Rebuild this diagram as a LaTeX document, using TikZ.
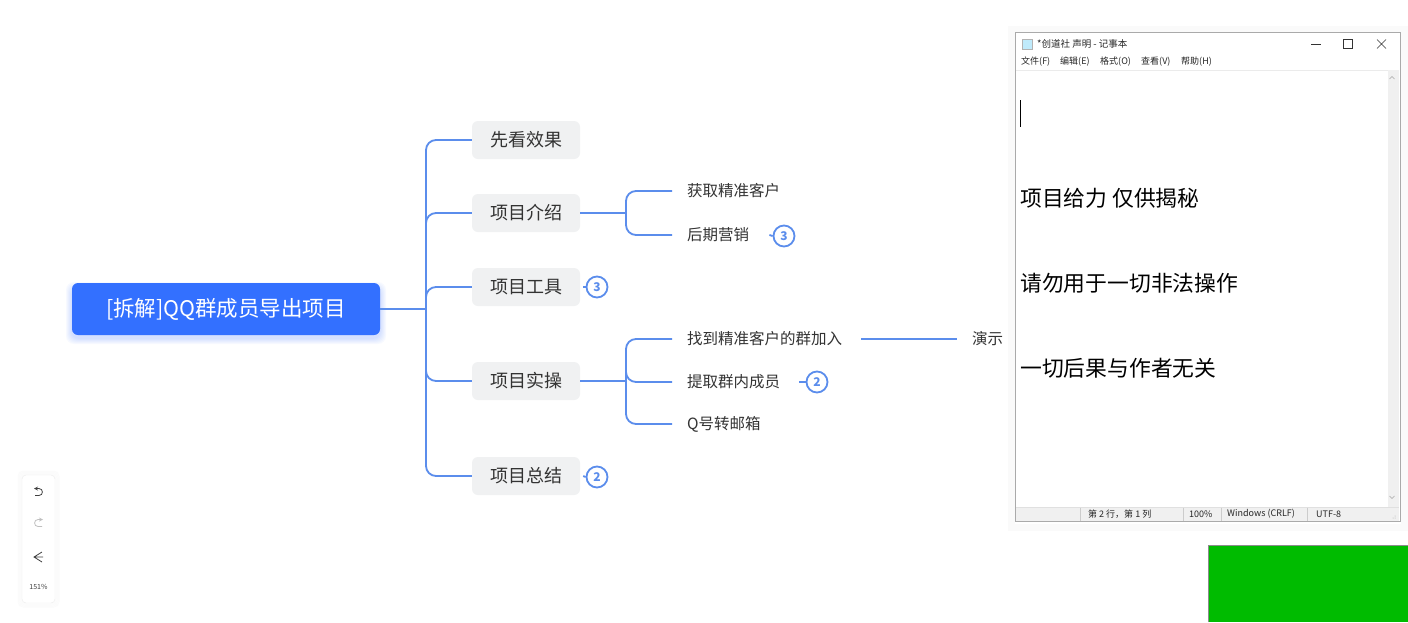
\documentclass[tikz,border=0pt]{standalone}
\usepackage{fontspec}
\setmainfont{Noto Sans CJK SC}
\definecolor{rootblue}{RGB}{51,112,255}
\definecolor{linkblue}{RGB}{91,141,236}
\definecolor{topicgray}{RGB}{240,241,242}
\definecolor{inkgray}{RGB}{51,51,51}
\definecolor{barbg}{RGB}{240,240,240}
\definecolor{winline}{RGB}{170,170,170}
\definecolor{mygreen}{RGB}{0,187,0}

\begin{document}
\begin{tikzpicture}[x=1pt,y=-1pt,
  rootbox/.style={fill=rootblue,rounded corners=6pt,minimum width=308pt,minimum height=52pt,
    text=white,font=\fontsize{21.5}{24}\selectfont},
  topicbox/.style={fill=topicgray,rounded corners=6pt,minimum width=108pt,minimum height=38pt,
    text=inkgray,font=\fontsize{18}{20}\selectfont},
  subtopic/.style={anchor=west,inner xsep=15pt,inner ysep=2pt,text=inkgray,font=\fontsize{15.5}{18}\selectfont},
  badge/.style={circle,draw=linkblue,line width=1.8pt,minimum size=21pt,inner sep=0pt,
    text=linkblue,font=\fontsize{12}{12}\selectfont\bfseries},
  link/.style={draw=linkblue,line width=1.8pt},
  menu/.style={anchor=west,inner sep=0pt,text=black!85,font=\fontsize{9}{10}\selectfont},
  memo/.style={anchor=west,inner sep=0pt,text=black,font=\fontsize{21.8}{24}\selectfont}]
  \useasboundingbox (0,0) rectangle (1408,622);
  \fill[white] (0,0) rectangle (1408,622);
  % soft glow under the root
  \foreach \g in {1,...,6}
    \fill[rootblue,opacity=0.035,rounded corners=8pt] (72-\g,285-\g+3) rectangle (380+\g,335+\g+3);
  % mind map
  \node[rootbox] (root) at (226,309) {[拆解]QQ群成员导出项目};
  \coordinate (hub) at (426,309);
  \node[topicbox] (look) at (526,140) {先看效果};
  \node[topicbox] (intro) at (526,213) {项目介绍};
  \node[topicbox] (tool) at (526,287) {项目工具};
  \node[topicbox] (run) at (526,381) {项目实操};
  \node[topicbox] (sum) at (526,476) {项目总结};
  \draw[link] (root.east) -- (hub);
  \foreach \t in {look,intro,tool,run,sum}
    \draw[link,rounded corners=10pt] (hub) |- (\t.west);
  % 项目介绍
  \coordinate (introhub) at (626,213);
  \node[subtopic] (get) at (672,191) {获取精准客户};
  \node[subtopic] (late) at (672,235) {后期营销};
  \draw[link] (intro.east) -- (introhub);
  \draw[link,rounded corners=10pt] (introhub) |- (get.west);
  \draw[link,rounded corners=10pt] (introhub) |- (late.west);
  % 项目实操
  \coordinate (runhub) at (626,381);
  \node[subtopic] (find) at (672,339) {找到精准客户的群加入};
  \node[subtopic] (pull) at (672,382) {提取群内成员};
  \node[subtopic] (mail) at (672,424) {Q号转邮箱};
  \node[subtopic] (demo) at (957,339) {演示};
  \draw[link] (run.east) -- (runhub);
  \foreach \t in {find,pull,mail}
    \draw[link,rounded corners=10pt] (runhub) |- (\t.west);
  \draw[link,line width=1.5pt] ([xshift=4pt]find.east) -- (demo.west);
  % badges
  \node[badge] (b1) at (597,287) {3};
  \node[badge] (b2) at (784,236) {3};
  \node[badge] (b3) at (817,382) {2};
  \node[badge] (b4) at (597,477) {2};
  \draw[link] ([xshift=3pt]tool.east) -- (b1.west);
  \draw[link] ([xshift=5pt]late.east) -- (b2.west);
  \draw[link] ([xshift=4pt]pull.east) -- (b3.west);
  \draw[link] ([xshift=3pt]sum.east) -- (b4.west);
  % toolbar
  \foreach \g in {1,...,4}
    \draw[black,opacity=0.015,rounded corners=5pt,line width=1pt] (22-\g,475-\g) rectangle (55+\g,603+\g);
  \node[draw=black!8,fill=white,rounded corners=4pt,minimum width=33pt,minimum height=128pt] (bar) at (38.5,539) {};
  \draw[black!75,line width=0.8pt,<-,>=stealth] (34,488.5) -- (39,488.5)
    .. controls (43.5,488.5) and (43.5,495.5) .. (39,495.5) -- (35,495.5);
  \draw[black!25,line width=0.8pt,<-,>=stealth] (43,519.5) -- (38,519.5)
    .. controls (33.5,519.5) and (33.5,526.5) .. (38,526.5) -- (42,526.5);
  \draw[black!75,line width=0.8pt] (42,552) -- (34,557) -- (42,562) (34,557) -- (43,557);
  \node[inner sep=0pt,font=\fontsize{7}{8}\selectfont,text=black!75] (zoomlv) at (38.5,587) {151\%};
  % notepad window
  \foreach \g in {1,...,7}
    \draw[black,opacity=0.02,line width=1pt] (1015-\g,32.5-\g+1) rectangle (1400+\g,521.5+\g+1.5);
  \node[draw=winline,fill=white,minimum width=385pt,minimum height=489pt,inner sep=0pt] (win) at (1207.5,277) {};
  \fill[barbg] (1388,70) rectangle (1399,507);
  \draw[black!35,line width=0.6pt] (1389.5,79) -- (1392,76.5) -- (1394.5,79);
  \draw[black!35,line width=0.6pt] (1389.5,496) -- (1392,498.5) -- (1394.5,496);
  \draw[black!8] (1016,70) -- (1388,70);
  \draw[black!30,fill=cyan!25] (1022,39) rectangle (1032,49);
  \node[menu,font=\fontsize{9.5}{10}\selectfont] (title) at (1037,44) {*创道社 声明 - 记事本};
  \draw[black!80,line width=0.6pt] (1311,44.5) -- (1321,44.5);
  \draw[black!80,line width=0.6pt] (1343,39.5) rectangle (1352,48.5);
  \draw[black!80,line width=0.6pt] (1377,39.5) -- (1386,48.5) (1377,48.5) -- (1386,39.5);
  \node[menu] (m1) at (1021,62) {文件(F)};
  \node[menu] (m2) at (1060,62) {编辑(E)};
  \node[menu] (m3) at (1100,62) {格式(O)};
  \node[menu] (m4) at (1141,62) {查看(V)};
  \node[menu] (m5) at (1181,62) {帮助(H)};
  \draw[black,line width=0.8pt] (1020.5,100) -- (1020.5,127);
  \node[memo] (line1) at (1020,198) {项目给力 仅供揭秘};
  \node[memo] (line2) at (1020,283) {请勿用于一切非法操作};
  \node[memo] (line3) at (1020,368) {一切后果与作者无关};
  % status bar
  \fill[barbg] (1016,507) rectangle (1399,521);
  \draw[black!12] (1016,507) -- (1399,507);
  \foreach \sx in {1080,1183,1221,1307}
    \draw[black!20] (\sx,507.5) -- (\sx,521);
  \node[menu] (s1) at (1088,514) {第 2 行，第 1 列};
  \node[menu] (s2) at (1189,514) {100\%};
  \node[menu] (s3) at (1227,514) {Windows (CRLF)};
  \node[menu] (s4) at (1316,514) {UTF-8};
  \foreach \gx/\gy in {1395/518,1393/518,1395/516}
    \fill[black!30] (\gx,\gy) circle (0.5pt);
  % green block
  \fill[mygreen] (1208,545) rectangle (1408,622);
  \draw[black!45,line width=1pt] (1208.5,622) -- (1208.5,545.5) -- (1408,545.5);
\end{tikzpicture}
\end{document}
